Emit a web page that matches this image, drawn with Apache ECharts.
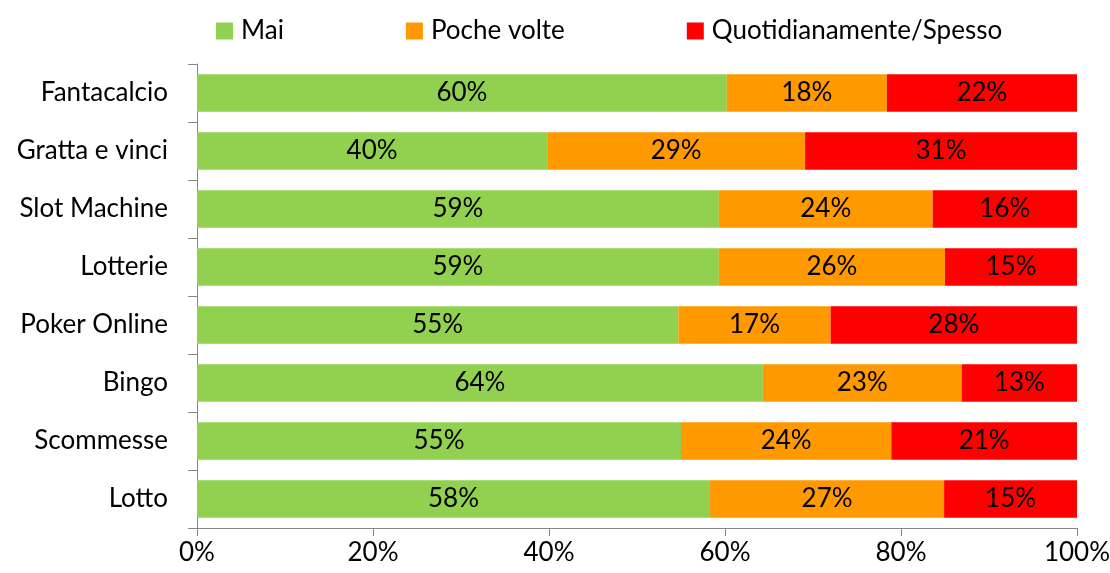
<!DOCTYPE html>
<html lang="it">
<head>
    <meta charset="UTF-8">
    <title>Gioco</title>
    <script src="https://cdn.jsdelivr.net/npm/echarts@6/dist/echarts.min.js"></script>
    <style>
        body{ margin:0; }
        #myChart{ width:1110px; height:573px; }
    </style>
</head>
<body>
    <div id="myChart"></div>

    <script>
        // dati (percentuali)
        var categorie = ['Fantacalcio', 'Gratta e vinci', 'Slot Machine', 'Lotterie', 'Poker Online', 'Bingo', 'Scommesse', 'Lotto'];
        var mai = [60.2, 39.8, 59.3, 59.3, 54.7, 64.3, 55.0, 58.3];
        var pocheVolte = [18.2, 29.3, 24.3, 25.7, 17.3, 22.6, 23.9, 26.6];
        var spesso = [21.6, 30.9, 16.4, 15.0, 28.0, 13.1, 21.1, 15.1];
        var nomiSerie = ['Mai', 'Poche volte', 'Quotidianamente/Spesso'];
        var colori = ['#92D050', '#FF9900', '#FF0000'];

        var font = 'Lato, "Liberation Sans", sans-serif';

        function serie(nome, dati, colore) {
            return {
                name: nome,
                type: 'bar',
                stack: 'tot',
                barWidth: '65%',
                data: dati,
                itemStyle: { color: colore },
                label: {
                    show: true,
                    position: 'inside',
                    color: '#000',
                    fontFamily: font,
                    fontSize: 26,
                    formatter: function (p) { return Math.round(p.value) + '%'; }
                }
            };
        }

        var myChart = echarts.init(document.getElementById('myChart'));
        var option = {
            animation: false,
            legend: {
                top: 13,
                left: 211,
                itemWidth: 17,
                itemHeight: 17,
                itemGap: 122,
                icon: 'rect',
                textStyle: { fontFamily: font, fontSize: 26, color: '#000', padding: [0, 0, 0, 3] },
                data: nomiSerie
            },
            grid: { left: 197, right: 33, top: 64, bottom: 45, outerBoundsMode: 'none' },
            xAxis: {
                type: 'value',
                min: 0,
                max: 100,
                interval: 20,
                axisLine: { show: true, lineStyle: { color: '#868686' } },
                axisTick: { show: true, length: 8, lineStyle: { color: '#868686' } },
                splitLine: { show: false },
                axisLabel: { formatter: '{value}%', color: '#000', fontFamily: font, fontSize: 26, margin: 12 }
            },
            yAxis: {
                type: 'category',
                inverse: true,
                data: categorie,
                axisLine: { show: true, lineStyle: { color: '#868686' } },
                axisTick: { show: true, length: 9, lineStyle: { color: '#868686' } },
                axisLabel: { color: '#000', fontFamily: font, fontSize: 26, margin: 29 }
            },
            series: [
                serie(nomiSerie[0], mai, colori[0]),
                serie(nomiSerie[1], pocheVolte, colori[1]),
                serie(nomiSerie[2], spesso, colori[2])
            ]
        };
        myChart.setOption(option);
    </script>
</body>
</html>
